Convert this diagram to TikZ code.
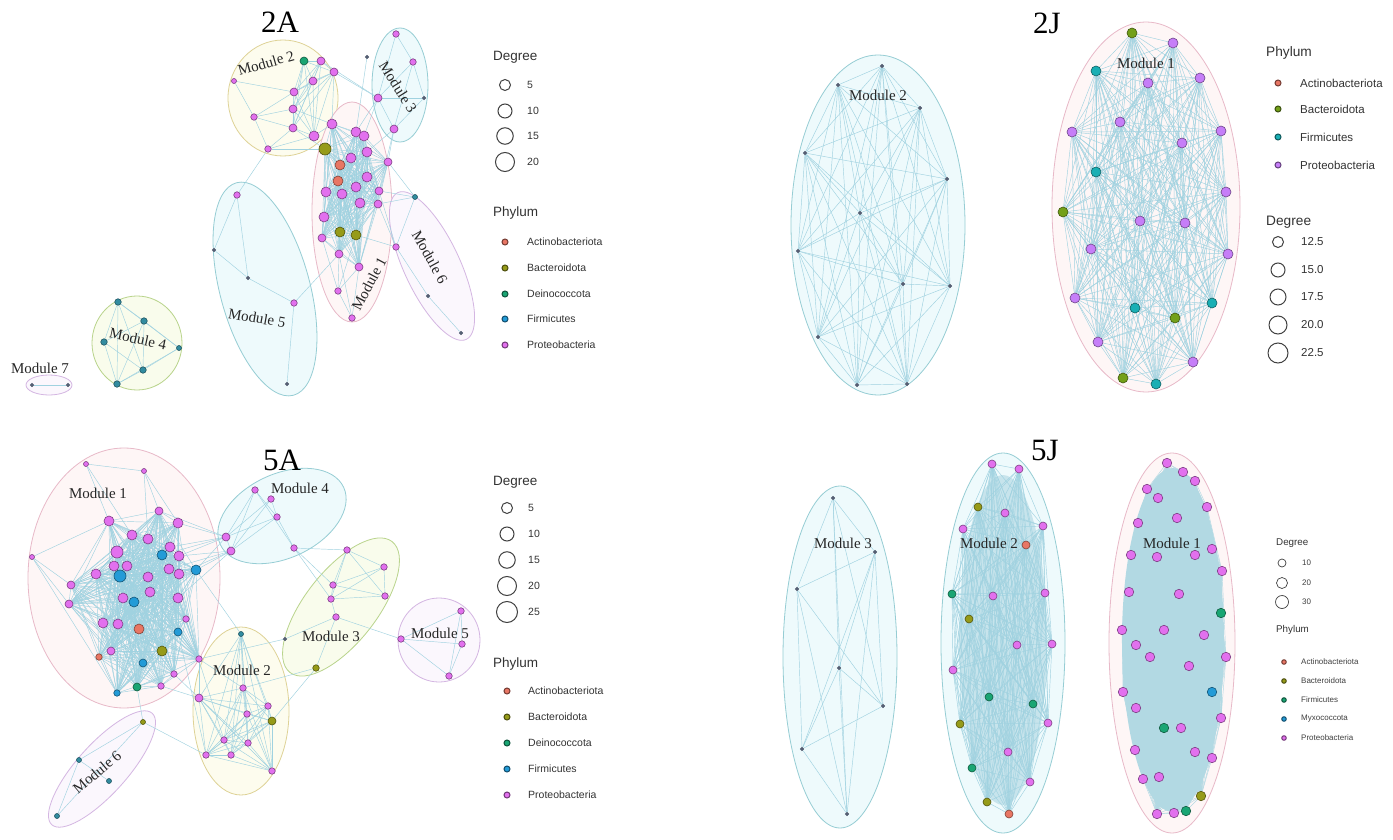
\documentclass[tikz,border=0pt]{standalone}
\usepackage{fontspec}
\setmainfont{Liberation Serif}
\setsansfont{Liberation Sans}
\pgfdeclarelayer{bg}
\pgfdeclarelayer{edges}
\pgfsetlayers{bg,edges,main}
\definecolor{cPro}{RGB}{226,112,238}
\definecolor{cProJ}{RGB}{198,126,248}
\definecolor{cBac}{RGB}{150,155,25}
\definecolor{cBacJ}{RGB}{115,160,25}
\definecolor{cAct}{RGB}{232,118,100}
\definecolor{cDei}{RGB}{25,165,115}
\definecolor{cFir}{RGB}{35,155,215}
\definecolor{cFirJ}{RGB}{25,175,180}
\definecolor{cTi}{RGB}{85,95,115}
\definecolor{cM4}{RGB}{50,140,160}
\definecolor{cEdge}{RGB}{160,210,224}
\definecolor{cDense}{RGB}{178,217,227}
\definecolor{lPink}{RGB}{232,185,200}
\definecolor{fPink}{RGB}{254,246,246}
\definecolor{lYel}{RGB}{222,210,150}
\definecolor{fYel}{RGB}{253,252,238}
\definecolor{lTeal}{RGB}{150,205,212}
\definecolor{fTeal}{RGB}{238,250,252}
\definecolor{lGrn}{RGB}{185,212,140}
\definecolor{fGrn}{RGB}{249,252,236}
\definecolor{lVio}{RGB}{212,182,226}
\definecolor{fVio}{RGB}{251,247,253}
\newcommand\VX[3]{\node[#3] (#1) at (#2) {};}
\newcommand\mkclique[4][edge]{%
  \foreach \i in {1,...,#3}{%
    \foreach \j in {1,...,#3}{%
      \ifnum\i<\j\relax
        \pgfmathtruncatemacro\myr{mod(\i*7+\j*11+\i*\j,#4)}%
        \ifnum\myr>0\relax \draw[#1] (#2\i)--(#2\j);\fi
      \fi}}}
\tikzset{
  vx/.style={circle,inner sep=0pt,line width=0.6pt},
  pro/.style={vx,fill=cPro,draw=cPro!55!black},
  proJ/.style={vx,fill=cProJ,draw=cProJ!55!black},
  bac/.style={vx,fill=cBac,draw=cBac!55!black},
  bacJ/.style={vx,fill=cBacJ,draw=cBacJ!55!black},
  act/.style={vx,fill=cAct,draw=cAct!55!black},
  dei/.style={vx,fill=cDei,draw=cDei!55!black},
  fir/.style={vx,fill=cFir,draw=cFir!55!black},
  firJ/.style={vx,fill=cFirJ,draw=cFirJ!55!black},
  mfc/.style={vx,fill=cM4,draw=cM4!60!black},
  ti/.style={vx,fill=cTi,draw=cTi,minimum size=3.5pt},
  szXL/.style={minimum size=12pt},
  szL/.style={minimum size=10pt},
  szML/.style={minimum size=9.5pt},
  szM/.style={minimum size=8pt},
  szS/.style={minimum size=6.5pt},
  szXS/.style={minimum size=5pt},
  edge/.style={draw=cEdge,line width=0.45pt},
  edgeL/.style={draw=cDense,line width=0.45pt},
  modP/.style={draw=lPink,fill=fPink,line width=0.8pt},
  modY/.style={draw=lYel,fill=fYel,line width=0.8pt},
  modT/.style={draw=lTeal,fill=fTeal,line width=0.8pt},
  modG/.style={draw=lGrn,fill=fGrn,line width=0.8pt},
  modV/.style={draw=lVio,fill=fVio,line width=0.8pt},
  lab/.style={font=\fontsize{15}{15}\selectfont,text=black!85,inner sep=1pt},
  ttl/.style={font=\fontsize{31}{31}\selectfont,text=black,inner sep=0pt},
  legT/.style={font=\sffamily\fontsize{13.5}{14}\selectfont,anchor=west,text=black!80,inner sep=0pt},
  legI/.style={font=\sffamily\fontsize{10.5}{11}\selectfont,anchor=west,text=black!80,inner sep=0pt},
  legJ/.style={font=\sffamily\fontsize{11.5}{12}\selectfont,anchor=west,text=black!80,inner sep=0pt},
  legTs/.style={font=\sffamily\fontsize{9.8}{10}\selectfont,anchor=west,text=black!80,inner sep=0pt},
  legIs/.style={font=\sffamily\fontsize{8}{9}\selectfont,anchor=west,text=black!75,inner sep=0pt},
  degc/.style={circle,draw=black!75,line width=1pt,inner sep=0pt,fill=white},
  ldot/.style={circle,inner sep=0pt,minimum size=6pt,line width=1pt},
}
\begin{document}
\begin{tikzpicture}[x=1pt,y=-1pt]
\useasboundingbox (0,0) rectangle (1393,840);
\begin{pgfonlayer}{bg}
\fill[white] (0,0) rectangle (1393,840);
% ---- 2A modules
\draw[modY] (283,98) ellipse [x radius=55pt,y radius=58pt];
\draw[modT] (400,85) ellipse [x radius=28pt,y radius=57pt];
\draw[modP] (352,212) ellipse [x radius=40pt,y radius=110pt];
\draw[modV,rotate around={25:(432,266)}] (432,266) ellipse [x radius=28pt,y radius=81pt];
\draw[modT,rotate around={15:(265,289)}] (265,289) ellipse [x radius=45pt,y radius=110pt];
\draw[modG] (137,343) ellipse [x radius=45pt,y radius=47pt];
\draw[modV] (49,385) ellipse [x radius=23pt,y radius=10pt];
% ---- 2J modules
\draw[modT] (878,225) ellipse [x radius=87pt,y radius=170pt];
\draw[modP] (1146,207) ellipse [x radius=94pt,y radius=185pt];
% ---- 5A modules
\draw[modP] (124,578) ellipse [x radius=96pt,y radius=130pt];
\draw[modT,rotate around={25:(282,516)}] (282,516) ellipse [x radius=68pt,y radius=42pt];
\draw[modG,rotate around={52:(341,607)}] (341,607) ellipse [x radius=83pt,y radius=36pt];
\draw[modV] (439,640) ellipse [x radius=41pt,y radius=42pt];
\draw[modY] (241,711) ellipse [x radius=48pt,y radius=84pt];
\draw[modV,rotate around={48:(102,769)}] (102,769) ellipse [x radius=75pt,y radius=25pt];
% ---- 5J modules
\draw[modT] (840,657) ellipse [x radius=57pt,y radius=171pt];
\draw[modT] (1003,643) ellipse [x radius=62pt,y radius=190pt];
\draw[modP] (1172,643) ellipse [x radius=63pt,y radius=190pt];
\fill[cDense] (1173,640) ellipse [x radius=51pt,y radius=172pt];
\fill[cDense!65!fTeal] (1003,640) ellipse [x radius=44pt,y radius=165pt];
\end{pgfonlayer}

% ================= 2A =================
\node[ttl] (t2A) at (280,22) {2A};
% module 1
\VX{p1}{356,132}{pro,szL}
\VX{p2}{364,136}{pro,szL}
\VX{p3}{325,149}{bac,szXL}
\VX{p4}{367,152}{pro,szL}
\VX{p5}{351,158}{pro,szL}
\VX{p6}{340,165}{act,szL}
\VX{p7}{388,162}{pro,szM}
\VX{p8}{338,181}{act,szL}
\VX{p9}{367,177}{pro,szL}
\VX{p10}{356,187}{pro,szL}
\VX{p11}{326,192}{pro,szL}
\VX{p12}{342,194}{pro,szL}
\VX{p13}{379,191}{pro,szM}
\VX{p14}{360,203}{pro,szL}
\VX{p15}{378,204}{pro,szM}
\VX{p16}{324,217}{pro,szL}
\VX{p17}{340,232}{bac,szL}
\VX{p18}{356,235}{bac,szL}
\VX{p19}{322,238}{pro,szM}
\VX{p20}{339,254}{pro,szM}
\VX{p21}{359,267}{pro,szM}
\VX{p22}{332,124}{pro,szL}
\VX{pz1}{338,291}{pro,szS}
\VX{pz2}{352,318}{pro,szS}
% module 2
\VX{q1}{304,61}{dei,szM}
\VX{q2}{321,61}{pro,szM}
\VX{q3}{334,72}{pro,szM}
\VX{q4}{313,81}{pro,szM}
\VX{q5}{294,92}{pro,szM}
\VX{q6}{293,109}{pro,szM}
\VX{q7}{293,128}{pro,szM}
\VX{q8}{314,136}{pro,szL}
\VX{q9}{234,81}{pro,szXS}
\VX{q10}{254,117}{pro,szS}
\VX{q11}{268,149}{pro,szS}
% module 3
\VX{r1}{396,34}{pro,szS}
\VX{r2}{413,62}{pro,szS}
\VX{r3}{424,98}{ti}
\VX{r4}{378,98}{pro,szM}
\VX{r5}{394,129}{pro,szM}
\VX{r6}{367,57}{ti}
% module 6
\VX{v1}{415,197}{mfc,szXS}
\VX{v2}{396,247}{pro,szS}
\VX{v3}{428,296}{ti}
\VX{v4}{461,333}{ti}
% module 5
\VX{u1}{237,195}{pro,szS}
\VX{u2}{214,250}{ti}
\VX{u3}{248,278}{ti}
\VX{u4}{294,303}{pro,szS}
\VX{u5}{287,384}{ti}
% module 4
\VX{s1}{118,302}{mfc,szS}
\VX{s2}{144,321}{mfc,szS}
\VX{s3}{104,342}{mfc,szS}
\VX{s4}{179,348}{mfc,szXS}
\VX{s5}{143,370}{mfc,szS}
\VX{s6}{117,384}{mfc,szS}
% module 7
\VX{w1}{32,385}{ti}
\VX{w2}{68,385}{ti}
% labels
\node[lab,rotate=16] (l2a2) at (266,63) {Module 2};
\node[lab,rotate=-58] (l2a3) at (398,87) {Module 3};
\node[lab,rotate=62] (l2a1) at (369,284) {Module 1};
\node[lab,rotate=-61] (l2a6) at (430,257) {Module 6};
\node[lab,rotate=-10] (l2a5) at (257,318) {Module 5};
\node[lab,rotate=-12] (l2a4) at (138,339) {Module 4};
\node[lab] (l2a7) at (40,368) {Module 7};
% legend 2A
\node[legT] (dg2A) at (493,57) {Degree};
\node[degc,minimum size=11pt] (d2A1) at (505,85) {};
\node[degc,minimum size=14pt] (d2A2) at (505,111) {};
\node[degc,minimum size=16.5pt] (d2A3) at (505,136) {};
\node[degc,minimum size=19pt] (d2A4) at (505,162) {};
\node[legI] at (527,85) {5};
\node[legI] at (527,111) {10};
\node[legI] at (527,136) {15};
\node[legI] at (527,162) {20};
\node[legT] (ph2A) at (493,213) {Phylum};
\node[ldot,fill=cAct,draw=cAct!50!black] (e2A1) at (505,242) {};
\node[ldot,fill=cBac,draw=cBac!50!black] (e2A2) at (505,268) {};
\node[ldot,fill=cDei,draw=cDei!50!black] (e2A3) at (505,294) {};
\node[ldot,fill=cFir,draw=cFir!50!black] (e2A4) at (505,319) {};
\node[ldot,fill=cPro,draw=cPro!50!black] (e2A5) at (505,345) {};
\node[legI] at (527,242) {Actinobacteriota};
\node[legI] at (527,268) {Bacteroidota};
\node[legI] at (527,294) {Deinococcota};
\node[legI] at (527,319) {Firmicutes};
\node[legI] at (527,345) {Proteobacteria};

% ================= 2J =================
\node[ttl] (t2J) at (1047,23) {2J};
\VX{jb1}{882,66}{ti}
\VX{jb2}{838,85}{ti}
\VX{jb3}{920,108}{ti}
\VX{jb4}{805,153}{ti}
\VX{jb5}{947,179}{ti}
\VX{jb6}{860,213}{ti}
\VX{jb7}{798,251}{ti}
\VX{jb8}{903,284}{ti}
\VX{jb9}{950,286}{ti}
\VX{jb10}{818,337}{ti}
\VX{jb11}{857,385}{ti}
\VX{jb12}{907,384}{ti}
\VX{ja1}{1132,33}{bacJ,szL}
\VX{ja2}{1173,43}{proJ,szL}
\VX{ja3}{1096,71}{firJ,szL}
\VX{ja4}{1148,83}{proJ,szL}
\VX{ja5}{1200,78}{proJ,szL}
\VX{ja6}{1120,122}{proJ,szL}
\VX{ja7}{1072,132}{proJ,szL}
\VX{ja8}{1182,143}{proJ,szL}
\VX{ja9}{1221,131}{proJ,szL}
\VX{ja10}{1096,172}{firJ,szL}
\VX{ja11}{1063,212}{bacJ,szL}
\VX{ja12}{1140,221}{proJ,szL}
\VX{ja13}{1185,223}{proJ,szL}
\VX{ja14}{1226,192}{proJ,szL}
\VX{ja15}{1091,249}{proJ,szL}
\VX{ja16}{1228,254}{proJ,szL}
\VX{ja17}{1075,298}{proJ,szL}
\VX{ja18}{1135,308}{firJ,szL}
\VX{ja19}{1175,318}{bacJ,szL}
\VX{ja20}{1212,303}{firJ,szL}
\VX{ja21}{1098,342}{proJ,szL}
\VX{ja22}{1193,362}{proJ,szL}
\VX{ja23}{1123,378}{bacJ,szL}
\VX{ja24}{1156,384}{firJ,szL}
\node[lab] (l2j2) at (878,95) {Module 2};
\node[lab] (l2j1) at (1146,63) {Module 1};
% legend 2J
\node[legT,font=\sffamily\fontsize{13.7}{14}\selectfont] (ph2J) at (1266,53) {Phylum};
\node[ldot,fill=cAct,draw=cAct!50!black] (e2J1) at (1278,83) {};
\node[ldot,fill=cBacJ,draw=cBacJ!50!black] (e2J2) at (1278,109) {};
\node[ldot,fill=cFirJ,draw=cFirJ!50!black] (e2J3) at (1278,137) {};
\node[ldot,fill=cProJ,draw=cProJ!50!black] (e2J4) at (1278,165) {};
\node[legJ] at (1300,83) {Actinobacteriota};
\node[legJ] at (1300,109) {Bacteroidota};
\node[legJ] at (1300,137) {Firmicutes};
\node[legJ] at (1300,165) {Proteobacteria};
\node[legT,font=\sffamily\fontsize{13.7}{14}\selectfont] (dg2J) at (1266,222) {Degree};
\node[degc,minimum size=11pt] (d2J1) at (1278,242) {};
\node[degc,minimum size=14pt] (d2J2) at (1278,270) {};
\node[degc,minimum size=16pt] (d2J3) at (1278,297) {};
\node[degc,minimum size=18pt] (d2J4) at (1278,325) {};
\node[degc,minimum size=20pt] (d2J5) at (1278,353) {};
\node[legJ] at (1301,242) {12.5};
\node[legJ] at (1301,270) {15.0};
\node[legJ] at (1301,297) {17.5};
\node[legJ] at (1301,325) {20.0};
\node[legJ] at (1301,353) {22.5};

% ================= 5A =================
\node[ttl] (t5A) at (282,460) {5A};
\VX{fa1}{159,511}{pro,szM}
\VX{fa2}{109,521}{pro,szL}
\VX{fa3}{178,523}{pro,szL}
\VX{fa4}{132,535}{pro,szL}
\VX{fa5}{148,539}{pro,szL}
\VX{fa6}{170,547}{pro,szL}
\VX{fa7}{117,552}{pro,szXL}
\VX{fa8}{162,555}{fir,szL}
\VX{fa9}{179,556}{pro,szL}
\VX{fa10}{114,566}{pro,szL}
\VX{fa11}{127,566}{pro,szL}
\VX{fa12}{196,570}{fir,szL}
\VX{fa13}{96,574}{pro,szL}
\VX{fa14}{120,576}{fir,szXL}
\VX{fa15}{148,577}{pro,szL}
\VX{fa16}{169,569}{pro,szL}
\VX{fa17}{179,574}{pro,szL}
\VX{fa18}{71,585}{pro,szM}
\VX{fa19}{150,592}{pro,szL}
\VX{fa20}{123,598}{pro,szL}
\VX{fa21}{134,602}{fir,szL}
\VX{fa22}{178,598}{pro,szL}
\VX{fa23}{69,604}{pro,szM}
\VX{fa24}{186,619}{pro,szS}
\VX{fa25}{103,623}{pro,szL}
\VX{fa26}{118,624}{pro,szL}
\VX{fa27}{139,629}{act,szL}
\VX{fa28}{178,632}{fir,szM}
\VX{fa29}{111,651}{pro,szM}
\VX{fa30}{162,651}{bac,szL}
\VX{fa31}{99,657}{act,szS}
\VX{fa32}{199,659}{pro,szS}
\VX{fa33}{143,663}{fir,szM}
\VX{fa34}{174,674}{pro,szS}
\VX{fa35}{137,687}{dei,szM}
\VX{fa36}{161,686}{pro,szS}
\VX{fa37}{117,693}{fir,szS}
\VX{fx1}{86,464}{pro,szXS}
\VX{fx2}{144,471}{pro,szXS}
\VX{fx3}{32,557}{pro,szXS}
% module 4
\VX{fd1}{255,490}{pro,szS}
\VX{fd2}{271,499}{pro,szS}
\VX{fd3}{277,517}{pro,szS}
\VX{fd4}{226,537}{pro,szM}
\VX{fd5}{231,551}{pro,szM}
\VX{fd6}{294,548}{pro,szS}
% module 3
\VX{fc1}{347,550}{pro,szS}
\VX{fc2}{384,567}{pro,szS}
\VX{fc3}{333,585}{pro,szS}
\VX{fc4}{331,599}{pro,szS}
\VX{fc5}{385,596}{pro,szS}
\VX{fc6}{336,617}{pro,szS}
\VX{fc7}{285,639}{ti}
\VX{fc8}{316,668}{bac,szS}
% module 5
\VX{fe1}{461,611}{pro,szS}
\VX{fe2}{401,639}{pro,szS}
\VX{fe3}{462,644}{pro,szS}
\VX{fe4}{449,676}{pro,szS}
% module 2
\VX{fb1}{241,634}{mfc,szXS}
\VX{fb2}{243,688}{pro,szS}
\VX{fb3}{199,698}{pro,szM}
\VX{fb4}{268,706}{pro,szS}
\VX{fb5}{247,714}{pro,szS}
\VX{fb6}{272,721}{bac,szM}
\VX{fb7}{224,740}{pro,szS}
\VX{fb8}{248,743}{pro,szS}
\VX{fb9}{206,755}{pro,szS}
\VX{fb10}{231,755}{pro,szS}
\VX{fb11}{272,771}{pro,szS}
% module 6
\VX{ff1}{143,722}{bac,szXS}
\VX{ff2}{79,760}{mfc,szXS}
\VX{ff3}{109,781}{mfc,szXS}
\VX{ff4}{57,816}{mfc,szXS}
\node[lab] (l5a1) at (98,493) {Module 1};
\node[lab] (l5a4) at (300,488) {Module 4};
\node[lab] (l5a3) at (331,636) {Module 3};
\node[lab] (l5a5) at (440,633) {Module 5};
\node[lab] (l5a2) at (242,670) {Module 2};
\node[lab,rotate=40] (l5a6) at (97,772) {Module 6};
% legend 5A
\node[legT] (dg5A) at (493,482) {Degree};
\node[degc,minimum size=11pt] (d5A1) at (507,508) {};
\node[degc,minimum size=14pt] (d5A2) at (507,534) {};
\node[degc,minimum size=16.5pt] (d5A3) at (507,560) {};
\node[degc,minimum size=19pt] (d5A4) at (507,586) {};
\node[degc,minimum size=21pt] (d5A5) at (507,612) {};
\node[legI] at (528,508) {5};
\node[legI] at (528,534) {10};
\node[legI] at (528,560) {15};
\node[legI] at (528,586) {20};
\node[legI] at (528,612) {25};
\node[legT] (ph5A) at (493,664) {Phylum};
\node[ldot,fill=cAct,draw=cAct!50!black] (e5A1) at (507,691) {};
\node[ldot,fill=cBac,draw=cBac!50!black] (e5A2) at (507,717) {};
\node[ldot,fill=cDei,draw=cDei!50!black] (e5A3) at (507,743) {};
\node[ldot,fill=cFir,draw=cFir!50!black] (e5A4) at (507,769) {};
\node[ldot,fill=cPro,draw=cPro!50!black] (e5A5) at (507,795) {};
\node[legI] at (528,691) {Actinobacteriota};
\node[legI] at (528,717) {Bacteroidota};
\node[legI] at (528,743) {Deinococcota};
\node[legI] at (528,769) {Firmicutes};
\node[legI] at (528,795) {Proteobacteria};

% ================= 5J =================
\node[ttl] (t5J) at (1045,450) {5J};
\VX{kc1}{833,498}{ti}
\VX{kc2}{875,552}{ti}
\VX{kc3}{797,589}{ti}
\VX{kc4}{839,668}{ti}
\VX{kc5}{883,706}{ti}
\VX{kc6}{802,749}{ti}
\VX{kc7}{847,814}{ti}
\VX{kb1}{992,464}{pro,szM}
\VX{kb2}{1019,469}{pro,szM}
\VX{kb3}{978,507}{bac,szM}
\VX{kb4}{1005,513}{pro,szM}
\VX{kb5}{963,529}{pro,szM}
\VX{kb6}{1043,526}{pro,szM}
\VX{kb7}{1026,545}{act,szM}
\VX{kb8}{952,594}{dei,szM}
\VX{kb9}{993,596}{pro,szM}
\VX{kb10}{1045,593}{pro,szM}
\VX{kb11}{969,619}{bac,szM}
\VX{kb12}{1017,645}{pro,szM}
\VX{kb13}{1052,644}{pro,szM}
\VX{kb14}{953,670}{pro,szM}
\VX{kb15}{989,697}{dei,szM}
\VX{kb16}{1033,704}{dei,szM}
\VX{kb17}{960,724}{bac,szM}
\VX{kb18}{1048,723}{pro,szM}
\VX{kb19}{1008,752}{pro,szM}
\VX{kb20}{972,768}{dei,szM}
\VX{kb21}{1030,782}{pro,szM}
\VX{kb22}{987,802}{bac,szM}
\VX{kb23}{1009,814}{act,szM}
\VX{ka1}{1167,463}{pro,szML}
\VX{ka2}{1183,472}{pro,szML}
\VX{ka3}{1195,481}{pro,szML}
\VX{ka4}{1147,489}{pro,szML}
\VX{ka5}{1158,498}{pro,szML}
\VX{ka6}{1207,507}{pro,szML}
\VX{ka7}{1177,518}{pro,szML}
\VX{ka8}{1138,523}{pro,szML}
\VX{ka9}{1212,549}{pro,szML}
\VX{ka10}{1131,555}{pro,szML}
\VX{ka11}{1157,557}{pro,szML}
\VX{ka12}{1195,555}{pro,szML}
\VX{ka13}{1222,571}{pro,szML}
\VX{ka14}{1129,592}{pro,szML}
\VX{ka15}{1179,594}{pro,szML}
\VX{ka16}{1221,613}{dei,szML}
\VX{ka17}{1122,630}{pro,szML}
\VX{ka18}{1164,630}{pro,szML}
\VX{ka19}{1204,635}{pro,szML}
\VX{ka20}{1136,645}{pro,szML}
\VX{ka21}{1150,657}{pro,szML}
\VX{ka22}{1226,657}{pro,szML}
\VX{ka23}{1189,666}{pro,szML}
\VX{ka24}{1123,692}{pro,szML}
\VX{ka25}{1212,692}{fir,szML}
\VX{ka26}{1136,708}{pro,szML}
\VX{ka27}{1221,718}{pro,szML}
\VX{ka28}{1164,728}{dei,szML}
\VX{ka29}{1181,728}{pro,szML}
\VX{ka30}{1135,750}{pro,szML}
\VX{ka31}{1195,752}{pro,szML}
\VX{ka32}{1212,758}{pro,szML}
\VX{ka33}{1143,779}{pro,szML}
\VX{ka34}{1159,777}{pro,szML}
\VX{ka35}{1201,796}{bac,szML}
\VX{ka36}{1157,814}{pro,szML}
\VX{ka37}{1174,813}{pro,szML}
\VX{ka38}{1186,811}{dei,szML}
\node[lab] (l5j3) at (843,543) {Module 3};
\node[lab] (l5j2) at (989,543) {Module 2};
\node[lab] (l5j1) at (1172,543) {Module 1};
% legend 5J
\node[legTs] (dg5J) at (1276,543) {Degree};
\node[degc,minimum size=8pt,line width=0.7pt] (d5J1) at (1282,563) {};
\node[degc,minimum size=11pt,line width=0.7pt] (d5J2) at (1282,583) {};
\node[degc,minimum size=13pt,line width=0.7pt] (d5J3) at (1282,602) {};
\node[legIs] at (1302,563) {10};
\node[legIs] at (1302,583) {20};
\node[legIs] at (1302,602) {30};
\node[legTs] (ph5J) at (1276,630) {Phylum};
\node[ldot,minimum size=4.5pt,fill=cAct,draw=cAct!50!black] (e5J1) at (1284,662) {};
\node[ldot,minimum size=4.5pt,fill=cBac,draw=cBac!50!black] (e5J2) at (1284,681) {};
\node[ldot,minimum size=4.5pt,fill=cDei,draw=cDei!50!black] (e5J3) at (1284,700) {};
\node[ldot,minimum size=4.5pt,fill=cFir,draw=cFir!50!black] (e5J4) at (1284,719) {};
\node[ldot,minimum size=4.5pt,fill=cPro,draw=cPro!50!black] (e5J5) at (1284,738) {};
\node[legIs] at (1301,662) {Actinobacteriota};
\node[legIs] at (1301,681) {Bacteroidota};
\node[legIs] at (1301,700) {Firmicutes};
\node[legIs] at (1301,719) {Myxococcota};
\node[legIs] at (1301,738) {Proteobacteria};

% ================= EDGES =================
\begin{pgfonlayer}{edges}
% 2A
\mkclique{p}{22}{1000}
\mkclique{q}{8}{1000}
\foreach \a/\b in {pz1/p20,pz1/p19,pz1/p21,pz2/p21,pz2/p20,pz2/pz1,pz1/p18,
  q9/q10,q10/q11,q10/q6,q10/q7,q10/q5,q11/q7,q11/q8,q9/q5,q11/p3,q7/p3,q8/p22,q6/p22,q3/p22,q3/r4,q2/r4,
  r1/r2,r1/r4,r2/r4,r2/r5,r4/r5,r3/r5,r3/r4,r2/r3,r5/p7,r4/p2,r5/p4,r4/p1,r6/p1,r5/p13,
  v1/v2,v2/v3,v3/v4,v1/p13,v1/p15,v2/p15,v2/p18,v2/p13,v1/p7,
  u1/u2,u1/u3,u2/u3,u3/u4,u4/u5,u1/q11,u4/p20,
  s1/s2,s1/s3,s1/s5,s1/s4,s2/s3,s2/s5,s2/s4,s3/s5,s3/s6,s4/s5,s4/s6,s5/s6,s2/s6,s1/s6,
  w1/w2}
  \draw[edge] (\a)--(\b);
% 2J
\mkclique{jb}{12}{1000}
\mkclique{ja}{24}{1000}
% 5A
\mkclique{fa}{37}{3}
\mkclique{fb}{11}{1000}
\foreach \a/\b in {fx1/fa2,fx1/fx2,fx1/fa4,fx2/fa1,fx2/fa3,fx2/fa5,fx3/fa18,fx3/fa2,fx3/fa23,fx3/fa37,
  fd1/fd4,fd1/fd5,fd2/fd3,fd3/fd6,fd1/fd6,fd4/fd5,fd2/fd4,fd3/fd4,fd3/fd5,fd1/fd3,fd2/fd5,
  fd4/fa3,fd4/fa9,fd5/fa12,fd4/fa6,fd5/fa9,fd5/fa17,fd4/fa8,fd5/fa16,fd4/fa1,fd5/fa22,fd4/fa12,
  fc1/fc3,fc1/fc4,fc1/fc2,fc1/fc5,fc2/fc3,fc2/fc5,fc2/fc4,fc3/fc4,fc3/fc5,fc4/fc6,fc4/fc5,fc6/fc8,fc6/fc7,
  fd6/fc3,fd6/fc1,fd6/fc4,fc6/fe2,fc7/fa32,fc8/fb6,fc8/fb2,
  fe1/fe2,fe1/fe3,fe1/fe4,fe2/fe4,fe3/fe4,fe2/fe3,
  fb1/fa12,
  fa32/fb3,fa32/fb2,fa34/fb3,fa36/fb3,fa24/fb7,fa28/fb9,
  ff1/ff2,ff2/ff3,ff1/ff4,ff2/ff4,ff1/fa35,ff1/fb9}
  \draw[edge] (\a)--(\b);
% 5J
\foreach \a/\b in {kc1/kc3,kc1/kc2,kc1/kc5,kc1/kc7,kc1/kc4,kc3/kc2,kc3/kc5,kc3/kc7,kc2/kc6,kc2/kc7,
  kc2/kc5,kc4/kc5,kc4/kc6,kc6/kc5,kc6/kc7,kc3/kc6,kc4/kc7,kc2/kc4}
  \draw[edge] (\a)--(\b);
\mkclique{kb}{23}{1000}
\mkclique[edgeL]{ka}{38}{1000}
\end{pgfonlayer}
\end{tikzpicture}
\end{document}
